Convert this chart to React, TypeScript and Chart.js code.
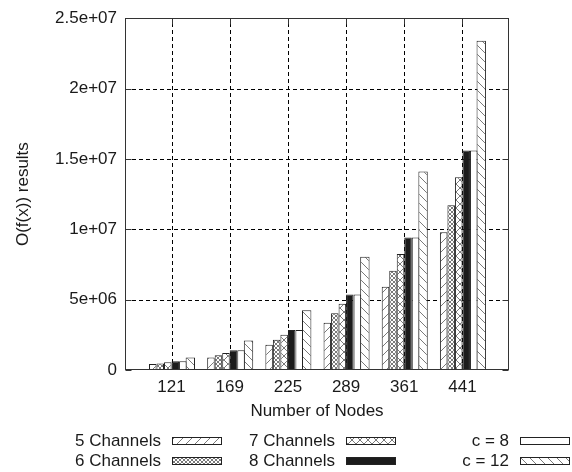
import { useEffect, useRef } from 'react';
import { Chart, registerables } from 'chart.js';

Chart.register(...registerables);

// Number of nodes on the x axis
const nodeLabels = ['121', '169', '225', '289', '361', '441'];

// Series names, in drawing and key order
const seriesNames = ['5 Channels', '6 Channels', '7 Channels', '8 Channels', 'c = 8', 'c = 12'];

// O(f(x)) results per node count
const fiveChannels = [0.42e6, 0.89e6, 1.8e6, 3.36e6, 5.92e6, 9.79e6];
const sixChannels = [0.47e6, 1.05e6, 2.15e6, 4.03e6, 7.06e6, 11.7e6];
const sevenChannels = [0.55e6, 1.21e6, 2.5e6, 4.7e6, 8.25e6, 13.7e6];
const eightChannels = [0.63e6, 1.4e6, 2.85e6, 5.36e6, 9.42e6, 15.6e6];
const cEight = [0.63e6, 1.4e6, 2.85e6, 5.36e6, 9.42e6, 15.6e6];
const cTwelve = [0.89e6, 2.1e6, 4.25e6, 8.04e6, 14.1e6, 23.4e6];

// y axis range and step
const yMax = 2.5e7;
const yStep = 5e6;

const FONT = '"Liberation Sans", Arial, Helvetica, sans-serif';
const INK = '#1a1a1a';
const EDGE = '#222222';
const HATCH = '#7a7a7a';

type Fill = 'fwd' | 'back' | 'cross' | 'dense' | 'solid' | 'empty';
const fills: Fill[] = ['fwd', 'dense', 'cross', 'solid', 'empty', 'back'];

function makeFill(kind: Fill): CanvasPattern | string {
  if (kind === 'solid') return '#1c1c1c';
  if (kind === 'empty') return '#ffffff';
  const size = kind === 'dense' ? 4 : kind === 'cross' ? 8 : 9;
  const c = document.createElement('canvas');
  c.width = size;
  c.height = size;
  const g = c.getContext('2d')!;
  g.fillStyle = '#ffffff';
  g.fillRect(0, 0, size, size);
  g.strokeStyle = HATCH;
  g.lineWidth = 1;
  const line = (x0: number, y0: number, x1: number, y1: number) => {
    g.beginPath();
    g.moveTo(x0, y0);
    g.lineTo(x1, y1);
    g.stroke();
  };
  const fwd = () => {
    for (const o of [-size, 0, size]) line(o - 1, size + 1, o + size + 1, -1);
  };
  const back = () => {
    for (const o of [-size, 0, size]) line(o - 1, -1, o + size + 1, size + 1);
  };
  if (kind === 'fwd') fwd();
  if (kind === 'back') back();
  if (kind === 'cross' || kind === 'dense') {
    fwd();
    back();
  }
  return g.createPattern(c, 'repeat') as CanvasPattern;
}

function formatValue(v: number): string {
  if (v === 0) return '0';
  return v.toExponential().replace(/e([+-])(\d)$/, 'e$10$2');
}

// Dashed grid at every tick, drawn under the bars
const gridPlugin = {
  id: 'dashedGrid',
  beforeDatasetsDraw(chart: any) {
    const { ctx, chartArea: a, scales } = chart;
    ctx.save();
    ctx.strokeStyle = '#000000';
    ctx.lineWidth = 1;
    ctx.setLineDash([4, 3]);
    ctx.beginPath();
    for (const t of scales.y.ticks) {
      if (t.value === 0 || t.value === yMax) continue;
      const y = Math.round(scales.y.getPixelForValue(t.value)) + 0.5;
      ctx.moveTo(a.left, y);
      ctx.lineTo(a.right, y);
    }
    for (const t of scales.x.ticks) {
      const x = Math.round(scales.x.getPixelForValue(t.value)) + 0.5;
      ctx.moveTo(x, a.bottom);
      ctx.lineTo(x, a.top);
    }
    ctx.stroke();
    ctx.restore();
  },
};

// Solid frame and inward tick marks drawn over the bars
const framePlugin = {
  id: 'frame',
  afterDatasetsDraw(chart: any) {
    const { ctx, chartArea: a, scales } = chart;
    const L = Math.round(a.left) + 0.5;
    const R = Math.round(a.right) - 0.5;
    const T = Math.round(a.top) + 0.5;
    const B = Math.round(a.bottom) - 0.5;
    ctx.save();
    ctx.strokeStyle = '#333333';
    ctx.lineWidth = 1;
    ctx.strokeRect(L, T, R - L, B - T);
    ctx.beginPath();
    for (const t of scales.y.ticks) {
      const y = Math.round(scales.y.getPixelForValue(t.value)) + 0.5;
      ctx.moveTo(L, y);
      ctx.lineTo(L + 6, y);
      ctx.moveTo(R, y);
      ctx.lineTo(R - 6, y);
    }
    for (const t of scales.x.ticks) {
      const x = Math.round(scales.x.getPixelForValue(t.value)) + 0.5;
      ctx.moveTo(x, B);
      ctx.lineTo(x, B - 6);
      ctx.moveTo(x, T);
      ctx.lineTo(x, T + 6);
    }
    ctx.stroke();
    ctx.restore();
  },
};

// Three-column key under the axis: right-aligned text followed by a sample box
const keyPlugin = {
  id: 'key',
  afterDraw(chart: any) {
    const { ctx } = chart;
    ctx.save();
    ctx.font = `17px ${FONT}`;
    ctx.textAlign = 'right';
    ctx.textBaseline = 'middle';
    chart.data.datasets.forEach((ds: any, i: number) => {
      const col = Math.floor(i / 2);
      const row = i % 2;
      const textRight = 161 + col * 174;
      const y = 441 + row * 20;
      ctx.fillStyle = INK;
      ctx.fillText(ds.label, textRight, y);
      const sx = textRight + 11;
      const sy = Math.round(y - 4);
      ctx.fillStyle = ds.backgroundColor;
      ctx.fillRect(sx, sy, 50, 8);
      ctx.strokeStyle = EDGE;
      ctx.lineWidth = 1;
      ctx.strokeRect(sx + 0.5, sy + 0.5, 49, 7);
    });
    ctx.restore();
  },
};

export default function App() {
  const canvasRef = useRef<HTMLCanvasElement | null>(null);

  useEffect(() => {
    const canvas = canvasRef.current;
    if (!canvas) return;
    const seriesValues = [fiveChannels, sixChannels, sevenChannels, eightChannels, cEight, cTwelve];

    const datasets = seriesNames.map((name, s) => ({
      label: name,
      data: seriesValues[s].map((v, i) => ({ x: i, y: v })),
      backgroundColor: makeFill(fills[s]),
      borderColor: EDGE,
      borderWidth: 1,
      borderSkipped: false,
      barPercentage: s === 5 ? 1.25 : 1,
      categoryPercentage: 0.775,
    }));

    const chart = new Chart(canvas, {
      type: 'bar',
      data: { datasets } as any,
      plugins: [gridPlugin, framePlugin, keyPlugin],
      options: {
        animation: false,
        responsive: false,
        devicePixelRatio: 1,
        layout: { padding: { left: 0, top: 12, right: 63, bottom: 50 } },
        plugins: {
          legend: { display: false },
          tooltip: { enabled: false },
        },
        scales: {
          x: {
            type: 'linear',
            min: -0.8,
            max: 5.8,
            offset: false,
            afterBuildTicks: (scale: any) => {
              scale.ticks = nodeLabels.map((_, i) => ({ value: i }));
            },
            afterFit: (scale: any) => {
              scale.height = 52;
            },
            ticks: {
              autoSkip: false,
              maxRotation: 0,
              padding: 7,
              color: INK,
              font: { family: FONT, size: 17 },
              callback: (_v: any, i: number) => nodeLabels[i],
            },
            grid: { display: false, offset: false, drawTicks: false },
            border: { display: false },
            title: {
              display: true,
              text: 'Number of Nodes',
              color: INK,
              font: { family: FONT, size: 17 },
              padding: { top: 0, bottom: 0 },
            },
          },
          y: {
            type: 'linear',
            min: 0,
            max: yMax,
            afterFit: (scale: any) => {
              scale.width = 125;
            },
            ticks: {
              stepSize: yStep,
              padding: 8,
              color: INK,
              font: { family: FONT, size: 17 },
              callback: (v: any) => formatValue(Number(v)),
            },
            grid: { display: false, drawTicks: false },
            border: { display: false },
            title: {
              display: true,
              text: 'O(f(x)) results',
              color: INK,
              font: { family: FONT, size: 17 },
              padding: { top: 13, bottom: 0 },
            },
          },
        },
      } as any,
    });

    return () => chart.destroy();
  }, []);

  return (
    <div style={{ position: 'fixed', left: 0, top: 0, width: 572, height: 472, background: '#ffffff' }}>
      <canvas ref={canvasRef} width={572} height={472} style={{ display: 'block', width: 572, height: 472 }} />
    </div>
  );
}
